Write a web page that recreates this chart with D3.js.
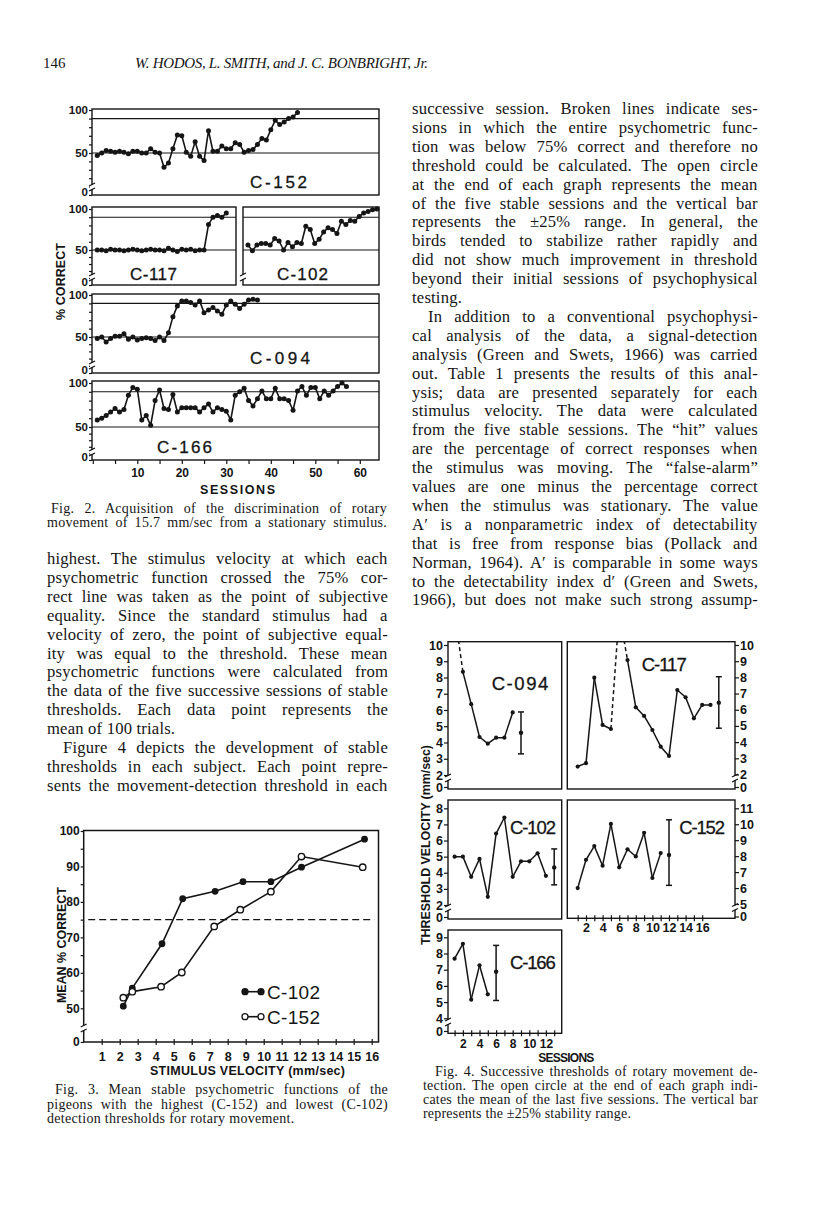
<!DOCTYPE html>
<html>
<head>
<meta charset="utf-8">
<script src="https://cdn.jsdelivr.net/npm/d3@7"></script>
<style>
  body { margin: 0; background: #fff; }
  svg { display: block; }
</style>
</head>
<body>
<svg id="page" width="816" height="1207"></svg>
<script>
// ---------- page text ----------
const pageNumber = "146";
const runningHead = "W. HODOS, L. SMITH, and J. C. BONBRIGHT, Jr.";

const leftCol = [
  "highest. The stimulus velocity at which each",
  "psychometric function crossed the 75% cor-",
  "rect line was taken as the point of subjective",
  "equality. Since the standard stimulus had a",
  "velocity of zero, the point of subjective equal-",
  "ity was equal to the threshold. These mean",
  "psychometric functions were calculated from",
  "the data of the five successive sessions of stable",
  "thresholds. Each data point represents the",
  "mean of 100 trials.",
  "Figure 4 depicts the development of stable",
  "thresholds in each subject. Each point repre-",
  "sents the movement-detection threshold in each"
];

const rightCol = [
  "successive session. Broken lines indicate ses-",
  "sions in which the entire psychometric func-",
  "tion was below 75% correct and therefore no",
  "threshold could be calculated. The open circle",
  "at the end of each graph represents the mean",
  "of the five stable sessions and the vertical bar",
  "represents the ±25% range. In general, the",
  "birds tended to stabilize rather rapidly and",
  "did not show much improvement in threshold",
  "beyond their initial sessions of psychophysical",
  "testing.",
  "In addition to a conventional psychophysi-",
  "cal analysis of the data, a signal-detection",
  "analysis (Green and Swets, 1966) was carried",
  "out. Table 1 presents the results of this anal-",
  "ysis; data are presented separately for each",
  "stimulus velocity. The data were calculated",
  "from the five stable sessions. The “hit” values",
  "are the percentage of correct responses when",
  "the stimulus was moving. The “false-alarm”",
  "values are one minus the percentage correct",
  "when the stimulus was stationary. The value",
  "A′ is a nonparametric index of detectability",
  "that is free from response bias (Pollack and",
  "Norman, 1964). A′ is comparable in some ways",
  "to the detectability index d′ (Green and Swets,",
  "1966), but does not make such strong assump-"
];

const fig2Caption = [
  "Fig. 2. Acquisition of the discrimination of rotary",
  "movement of 15.7 mm/sec from a stationary stimulus."
];
const fig3Caption = [
  "Fig. 3. Mean stable psychometric functions of the",
  "pigeons with the highest (C-152) and lowest (C-102)",
  "detection thresholds for rotary movement."
];
const fig4Caption = [
  "Fig. 4. Successive thresholds of rotary movement de-",
  "tection. The open circle at the end of each graph indi-",
  "cates the mean of the last five sessions. The vertical bar",
  "represents the ±25% stability range."
];

// ---------- Fig. 2 data: % correct per session ----------
const c152Acq = [47, 50, 53, 52, 51, 52, 51, 49, 52, 52, 50, 50, 55, 51, 50, 33, 38, 55, 71, 70, 51, 46, 63, 46, 41, 76, 52, 52, 58, 55, 55, 62, 60, 51, 53, 54, 60, 67, 65, 77, 88, 83, 86, 90, 92, 97];
const c117Acq = [50, 50, 49, 51, 50, 50, 49, 50, 51, 50, 49, 50, 51, 50, 50, 49, 52, 50, 48, 51, 50, 51, 49, 50, 50, 81, 90, 92, 90, 95];
const c102Acq = [56, 49, 56, 58, 58, 56, 64, 61, 50, 59, 54, 59, 58, 79, 75, 58, 63, 72, 77, 75, 70, 85, 81, 86, 85, 91, 95, 97, 99, 100];
const c094Acq = [48, 50, 43, 48, 51, 51, 54, 47, 50, 46, 48, 49, 48, 45, 50, 45, 55, 74, 87, 93, 93, 91, 88, 93, 79, 82, 85, 81, 77, 88, 93, 89, 84, 89, 94, 95, 94];
const c166Acq = [58, 60, 63, 67, 71, 67, 70, 86, 95, 93, 58, 63, 52, 80, 92, 71, 70, 87, 67, 72, 72, 72, 72, 67, 72, 76, 67, 72, 70, 68, 58, 86, 90, 94, 80, 74, 82, 91, 82, 82, 94, 82, 82, 80, 69, 91, 96, 86, 95, 95, 82, 91, 86, 91, 96, 100, 96];
const acqRefLines = [50, 90];
const acqTicks = [0, 10, 20, 30, 40, 50, 60, 70, 80, 90, 100];
const acqLabels = [0, 50, 100];
const sessionTicks2 = [0, 5, 10, 15, 20, 25, 30, 35, 40, 45, 50, 55, 60];
const sessionLabels2 = [10, 20, 30, 40, 50, 60];

// ---------- Fig. 3 data: mean % correct vs stimulus velocity ----------
const velC102 = [2.2, 2.7, 4.35, 5.5, 7.3, 8.85, 10.4, 12.1, 15.6];
const pctC102 = [50.6, 55.7, 68.2, 80.9, 83.0, 85.7, 85.7, 89.8, 97.7];
const velC152 = [2.2, 2.7, 4.3, 5.45, 7.25, 8.7, 10.4, 12.1, 15.5];
const pctC152 = [53.0, 54.7, 56.1, 60.1, 73.1, 77.8, 82.9, 92.8, 89.8];
const velTicks = [1, 2, 3, 4, 5, 6, 7, 8, 9, 10, 11, 12, 13, 14, 15, 16];
const pctTicks = [0, 50, 55, 60, 65, 70, 75, 80, 85, 90, 95, 100];
const pctLabels = [0, 50, 60, 70, 80, 90, 100];
const criterion = 75;

// ---------- Fig. 4 data: threshold (mm/sec) per session ----------
// off = sessions with no threshold (drawn as broken line running off the top)
const c094Thr = [12, 8.35, 6.36, 4.34, 3.93, 4.30, 4.30, 5.85];
const c094Off = [1];
const c094Stable = [4.6, 3.3, 5.88];   // mean, low, high
const c117Thr = [2.49, 2.7, 7.98, 5.06, 4.81, 12, 9.07, 6.15, 5.62, 4.75, 3.72, 3.15, 7.22, 6.77, 5.47, 6.30, 6.30];
const c117Off = [6];
const c117Stable = [6.44, 4.86, 8.04];
const c102Thr = [5.0, 5.0, 3.75, 4.86, 2.51, 6.43, 7.43, 3.75, 4.71, 4.71, 5.21, 3.81];
const c102Stable = [4.33, 3.25, 5.48];
const c152Thr = [6.0, 7.77, 8.63, 7.4, 10.02, 7.3, 8.43, 7.98, 9.46, 6.63, 8.19];
const c152Stable = [8.07, 6.17, 10.28];
const c166Thr = [7.68, 8.6, 5.15, 7.27, 5.48];
const c166Stable = [6.88, 5.1, 8.5];
const thrTicks094 = [0, 2, 3, 4, 5, 6, 7, 8, 9, 10];
const thrTicks102 = [0, 2, 3, 4, 5, 6, 7, 8];
const thrTicks152 = [0, 5, 6, 7, 8, 9, 10, 11];
const thrTicks166 = [0, 4, 5, 6, 7, 8, 9];
const sessTicksRight = [1, 2, 3, 4, 5, 6, 7, 8, 9, 10, 11, 12, 13, 14, 15, 16];
const sessLabelsRight = [2, 4, 6, 8, 10, 12, 14, 16];
const sessTicksLeft = [1, 2, 3, 4, 5, 6, 7, 8, 9, 10, 11, 12, 13];
const sessLabelsLeft = [2, 4, 6, 8, 10, 12];

// ---------- setup ----------
const ink = "#151515";
const serif = '"Liberation Serif", "DejaVu Serif", serif';
const sans = '"Liberation Sans", Arial, sans-serif';
const svg = d3.select("#page");
svg.append("rect").attr("width", 816).attr("height", 1207).attr("fill", "#fff");

// justified block of text; word spacing stretched to fill the column
function textBlock(lines, o) {
  let g = svg.append("g").attr("font-family", serif).attr("font-size", o.size)
    .attr("letter-spacing", o.ls || 0).attr("fill", ink);
  lines.forEach((line, i) => {
    let x = o.x0 + ((o.indent || []).includes(i) ? o.indentW : 0);
    let t = g.append("text").attr("x", x).attr("y", o.y0 + i * o.lh).text(line);
    if ((o.ragged || []).includes(i)) return;
    let w = t.node().getBBox().width;
    let gaps = line.split(" ").length - 1;
    if (gaps > 0) t.attr("word-spacing", (o.x1 - x - w) / gaps);
  });
}

// axis break: a small gap with two slanted strokes
function breakMark(g, x, y) {
  g.append("rect").attr("x", x - 2).attr("y", y - 2).attr("width", 4).attr("height", 4).attr("fill", "#fff");
  g.append("path").attr("d", `M${x - 3},${y - 1} L${x + 3},${y - 4} M${x - 3},${y + 4} L${x + 3},${y + 1}`)
    .attr("stroke", ink).attr("stroke-width", 1.3).attr("fill", "none");
}

function styleAxis(ax, size) {
  ax.select(".domain").remove();
  ax.attr("font-family", sans).attr("font-size", size).attr("font-weight", "bold");
  ax.selectAll("text").attr("fill", ink);
  ax.selectAll("line").attr("stroke", ink).attr("stroke-width", 1.2);
}

// ---------- header ----------
svg.append("text").attr("x", 43).attr("y", 68).attr("font-family", serif).attr("font-size", 15)
  .attr("fill", ink).text(pageNumber);
svg.append("text").attr("x", 135).attr("y", 68).attr("font-family", serif).attr("font-size", 15)
  .attr("font-style", "italic").attr("fill", ink)
  .attr("textLength", 293).attr("lengthAdjust", "spacing").text(runningHead);

// ---------- body text and captions ----------
textBlock(leftCol, { x0: 47, x1: 388, y0: 564, lh: 18.9, size: 16.6, ls: 0.2, ragged: [9], indent: [10], indentW: 16 });
textBlock(rightCol, { x0: 412, x1: 758, y0: 114, lh: 18.9, size: 16.6, ls: 0.2, ragged: [10], indent: [11], indentW: 16 });
textBlock(fig2Caption, { x0: 47, x1: 387, y0: 512.5, lh: 14.5, size: 14, ls: 0.3, indent: [0], indentW: 4 });
textBlock(fig3Caption, { x0: 47, x1: 388, y0: 1094, lh: 14.5, size: 14, ls: 0.3, ragged: [2], indent: [0], indentW: 8 });
textBlock(fig4Caption, { x0: 423, x1: 758, y0: 1076, lh: 14, size: 14, ls: 0.2, ragged: [3], indent: [0], indentW: 12 });

// ---------- Fig. 2 ----------
const fig2 = svg.append("g");
const xAcq = d3.scaleLinear().domain([0, 60]).range([92.8, 359.8]);
const xAcqRight = d3.scaleLinear().domain([0, 30]).range([243.5, 377]);

const fig2Panels = [
  { name: "C-152", values: c152Acq, x: xAcq, box: [92, 379, 109, 195], y50: 153, y100: 110, axis: true, label: [250, 188, 57] },
  { name: "C-117", values: c117Acq, x: xAcq, box: [92, 236, 207, 285], y50: 250, y100: 209, axis: true, label: [130, 280, 47] },
  { name: "C-102", values: c102Acq, x: xAcqRight, box: [243, 379, 207, 285], y50: 250, y100: 209, axis: false, label: [277, 280, 51] },
  { name: "C-094", values: c094Acq, x: xAcq, box: [92, 379, 294, 373], y50: 337, y100: 295, axis: true, label: [250, 364, 60] },
  { name: "C-166", values: c166Acq, x: xAcq, box: [92, 379, 381, 460], y50: 427, y100: 383, axis: true, label: [157, 453, 55] }
];

fig2Panels.forEach(p => {
  let [l, r, t, b] = p.box;
  let y = d3.scaleLinear().domain([0, 50, 100]).range([b, p.y50, p.y100]);
  let g = fig2.append("g");

  g.append("rect").attr("x", l).attr("y", t).attr("width", r - l).attr("height", b - t)
    .attr("fill", "none").attr("stroke", ink).attr("stroke-width", 1.4);

  g.selectAll("line.ref").data(acqRefLines).join("line").attr("class", "ref")
    .attr("x1", l).attr("x2", r).attr("y1", d => y(d)).attr("y2", d => y(d))
    .attr("stroke", ink).attr("stroke-width", 1.1);

  if (p.axis) {
    let ax = g.append("g").attr("transform", `translate(${l},0)`)
      .call(d3.axisLeft(y).tickValues(acqTicks)
        .tickFormat(d => acqLabels.includes(d) ? d : "").tickSize(3).tickPadding(1));
    styleAxis(ax, 11.5);
    // lift the 0 label a little so it clears the panel below
    ax.selectAll(".tick text").filter(d => d === 0).attr("dy", "0.05em");
  }
  breakMark(g, l, b - 8);

  let line = d3.line().x((d, i) => p.x(i + 1)).y(d => y(d));
  g.append("path").attr("d", line(p.values)).attr("fill", "none")
    .attr("stroke", ink).attr("stroke-width", 1.6).attr("stroke-linejoin", "round");
  g.selectAll("circle").data(p.values).join("circle")
    .attr("cx", (d, i) => p.x(i + 1)).attr("cy", d => y(d)).attr("r", 2.5).attr("fill", ink);

  g.append("text").attr("x", p.label[0]).attr("y", p.label[1])
    .attr("font-family", sans).attr("font-size", 17).attr("fill", ink)
    .attr("stroke", ink).attr("stroke-width", 0.3)
    .attr("textLength", p.label[2]).attr("lengthAdjust", "spacing").text(p.name);
});

// sessions axis under the last panel
let ax2 = fig2.append("g").attr("transform", "translate(0,460)")
  .call(d3.axisBottom(xAcq).tickValues(sessionTicks2)
    .tickFormat(d => sessionLabels2.includes(d) ? d : "").tickSize(4).tickPadding(4.5));
styleAxis(ax2, 12);

fig2.append("text").attr("x", 200).attr("y", 494).attr("font-family", sans).attr("font-size", 12.5)
  .attr("font-weight", "bold").attr("fill", ink)
  .attr("textLength", 75).attr("lengthAdjust", "spacing").text("SESSIONS");
fig2.append("text").attr("transform", "translate(64.5,320) rotate(-90)")
  .attr("font-family", sans).attr("font-size", 12.5).attr("font-weight", "bold").attr("fill", ink)
  .attr("textLength", 77).attr("lengthAdjust", "spacing").text("% CORRECT");

// ---------- Fig. 3 ----------
const fig3 = svg.append("g");
const xVel = d3.scaleLinear().domain([0, 16]).range([83.7, 371.7]);
const yPct = d3.scaleLinear().domain([0, 50, 100]).range([1042, 1008.3, 831]);

fig3.append("rect").attr("x", 83.7).attr("y", 830.5).attr("width", 378.5 - 83.7).attr("height", 1042 - 830.5)
  .attr("fill", "none").attr("stroke", ink).attr("stroke-width", 1.5);

let ay3 = fig3.append("g").attr("transform", "translate(83.7,0)")
  .call(d3.axisLeft(yPct).tickValues(pctTicks)
    .tickFormat(d => pctLabels.includes(d) ? d : "").tickSize(3).tickPadding(1));
styleAxis(ay3, 12);

let ax3 = fig3.append("g").attr("transform", "translate(0,1042)")
  .call(d3.axisBottom(xVel).tickValues(velTicks).tickSize(3).tickPadding(7));
styleAxis(ax3, 12.5);
let ax3up = fig3.append("g").attr("transform", "translate(0,1042)")
  .call(d3.axisBottom(xVel).tickValues(velTicks).tickFormat("").tickSize(-3));
styleAxis(ax3up, 12);
breakMark(fig3, 83.7, 1028);

fig3.append("line").attr("x1", xVel(0.25)).attr("x2", xVel(16.15))
  .attr("y1", yPct(criterion)).attr("y2", yPct(criterion))
  .attr("stroke", ink).attr("stroke-width", 1.3).attr("stroke-dasharray", "7,4");

let fnLine = d3.line().x(d => xVel(d[0])).y(d => yPct(d[1]));
let c102Pts = velC102.map((v, i) => [v, pctC102[i]]);
let c152Pts = velC152.map((v, i) => [v, pctC152[i]]);

fig3.append("path").attr("d", fnLine(c102Pts)).attr("fill", "none").attr("stroke", ink).attr("stroke-width", 1.6);
fig3.append("path").attr("d", fnLine(c152Pts)).attr("fill", "none").attr("stroke", ink).attr("stroke-width", 1.6);
fig3.selectAll("circle.c102").data(c102Pts).join("circle").attr("class", "c102")
  .attr("cx", d => xVel(d[0])).attr("cy", d => yPct(d[1])).attr("r", 3.4).attr("fill", ink);
fig3.selectAll("circle.c152").data(c152Pts).join("circle").attr("class", "c152")
  .attr("cx", d => xVel(d[0])).attr("cy", d => yPct(d[1])).attr("r", 3.2)
  .attr("fill", "#fff").attr("stroke", ink).attr("stroke-width", 1.4);

// legend
const legend = [
  { name: "C-102", y: 991.7, filled: true },
  { name: "C-152", y: 1016.7, filled: false }
];
legend.forEach(d => {
  fig3.append("line").attr("x1", 245).attr("x2", 261).attr("y1", d.y).attr("y2", d.y)
    .attr("stroke", ink).attr("stroke-width", 1.6);
  [245, 261].forEach(cx => {
    fig3.append("circle").attr("cx", cx).attr("cy", d.y).attr("r", 3)
      .attr("fill", d.filled ? ink : "#fff").attr("stroke", ink).attr("stroke-width", 1.3);
  });
  fig3.append("text").attr("x", 267).attr("y", d.y + 7).attr("font-family", sans).attr("font-size", 19)
    .attr("fill", ink).attr("textLength", 53).attr("lengthAdjust", "spacing").text(d.name);
});

fig3.append("text").attr("x", 150).attr("y", 1075).attr("font-family", sans).attr("font-size", 12.5)
  .attr("font-weight", "bold").attr("fill", ink)
  .attr("textLength", 195).attr("lengthAdjust", "spacing").text("STIMULUS VELOCITY (mm/sec)");
fig3.append("text").attr("transform", "translate(65.5,1003) rotate(-90)")
  .attr("font-family", sans).attr("font-size", 12.5).attr("font-weight", "bold").attr("fill", ink)
  .attr("textLength", 116).attr("lengthAdjust", "spacing").text("MEAN % CORRECT");

// ---------- Fig. 4 ----------
const fig4 = svg.append("g");
const xSessL = d3.scaleLinear().domain([0, 13]).range([446.3, 446.3 + 8.3 * 13]);
const xSessR = d3.scaleLinear().domain([0, 20]).range([569.4, 569.4 + 8.3 * 20]);

const fig4Panels = [
  { name: "C-094", values: c094Thr, off: c094Off, stable: c094Stable, x: xSessL, side: "left",
    box: [448, 561.7, 641.7, 789], dom: [0, 2, 10], rng: [787, 775, 645], ticks: thrTicks094, label: [491.7, 690, 56.6] },
  { name: "C-117", values: c117Thr, off: c117Off, stable: c117Stable, x: xSessR, side: "right",
    box: [567.3, 735, 641.7, 789], dom: [0, 2, 10], rng: [787, 774.5, 645], ticks: thrTicks094, label: [641.7, 670.7, 45] },
  { name: "C-102", values: c102Thr, off: [], stable: c102Stable, x: xSessL, side: "left",
    box: [448, 561.7, 800, 919], dom: [0, 2, 8], rng: [917, 905, 808.3], ticks: thrTicks102, label: [510, 834, 46] },
  { name: "C-152", values: c152Thr, off: [], stable: c152Stable, x: xSessR, side: "right",
    box: [567.3, 735, 800, 918.3], dom: [0, 5, 11], rng: [916.5, 904, 808.3], ticks: thrTicks152, label: [679.3, 834, 45.7] },
  { name: "C-166", values: c166Thr, off: [], stable: c166Stable, x: xSessL, side: "left",
    box: [448, 561.7, 930, 1033.3], dom: [0, 4, 9], rng: [1031, 1018.3, 937.3], ticks: thrTicks166, label: [510, 969.3, 45.7] }
];

fig4Panels.forEach((p, k) => {
  let [l, r, t, b] = p.box;
  let y = d3.scaleLinear().domain(p.dom).range(p.rng);
  let g = fig4.append("g");

  g.append("clipPath").attr("id", "clip4-" + k).append("rect")
    .attr("x", l).attr("y", t).attr("width", r - l).attr("height", b - t);

  g.append("rect").attr("x", l).attr("y", t).attr("width", r - l).attr("height", b - t)
    .attr("fill", "none").attr("stroke", ink).attr("stroke-width", 1.4);

  let axisX = p.side === "left" ? l : r;
  let axisGen = p.side === "left" ? d3.axisLeft(y) : d3.axisRight(y);
  let ay = g.append("g").attr("transform", `translate(${axisX},0)`)
    .call(axisGen.tickValues(p.ticks).tickSize(4).tickPadding(1));
  styleAxis(ay, 12.5);
  breakMark(g, axisX, p.rng[0] - 9);

  // session-by-session segments; broken where no threshold was obtained
  let pts = p.values.map((v, i) => [i + 1, v]);
  let segs = d3.pairs(pts);
  g.append("g").attr("clip-path", `url(#clip4-${k})`)
    .selectAll("line").data(segs).join("line")
    .attr("x1", d => p.x(d[0][0])).attr("y1", d => y(d[0][1]))
    .attr("x2", d => p.x(d[1][0])).attr("y2", d => y(d[1][1]))
    .attr("stroke", ink).attr("stroke-width", 1.5)
    .attr("stroke-dasharray", d => (p.off.includes(d[0][0]) || p.off.includes(d[1][0])) ? "4,3" : null);

  g.selectAll("circle.pt").data(pts.filter(d => !p.off.includes(d[0]))).join("circle").attr("class", "pt")
    .attr("cx", d => p.x(d[0])).attr("cy", d => y(d[1])).attr("r", 2.1).attr("fill", ink);

  // mean of stable sessions with +/-25% bar
  let ms = p.values.length + 1;
  let [mean, lo, hi] = p.stable;
  g.append("line").attr("x1", p.x(ms)).attr("x2", p.x(ms)).attr("y1", y(lo)).attr("y2", y(hi))
    .attr("stroke", ink).attr("stroke-width", 1.5);
  [lo, hi].forEach(v => {
    g.append("line").attr("x1", p.x(ms) - 3).attr("x2", p.x(ms) + 3).attr("y1", y(v)).attr("y2", y(v))
      .attr("stroke", ink).attr("stroke-width", 1.5);
  });
  g.append("circle").attr("cx", p.x(ms)).attr("cy", y(mean)).attr("r", 2.2).attr("fill", ink);

  g.append("text").attr("x", p.label[0]).attr("y", p.label[1])
    .attr("font-family", sans).attr("font-size", 18.5).attr("fill", ink)
    .attr("stroke", ink).attr("stroke-width", 0.3)
    .attr("textLength", p.label[2]).attr("lengthAdjust", "spacing").text(p.name);
});

// session axes under C-152 and C-166
let ax4r = fig4.append("g").attr("transform", "translate(0,918.3)")
  .call(d3.axisBottom(xSessR).tickValues(sessTicksRight)
    .tickFormat(d => sessLabelsRight.includes(d) ? d : "").tickSize(3).tickPadding(1.5));
styleAxis(ax4r, 12.5);
let ax4rUp = fig4.append("g").attr("transform", "translate(0,918.3)")
  .call(d3.axisBottom(xSessR).tickValues(sessTicksRight).tickFormat("").tickSize(-3));
styleAxis(ax4rUp, 12);

let ax4l = fig4.append("g").attr("transform", "translate(0,1033.3)")
  .call(d3.axisBottom(xSessL).tickValues(sessTicksLeft)
    .tickFormat(d => sessLabelsLeft.includes(d) ? d : "").tickSize(3).tickPadding(3));
styleAxis(ax4l, 12);
let ax4lUp = fig4.append("g").attr("transform", "translate(0,1033.3)")
  .call(d3.axisBottom(xSessL).tickValues(sessTicksLeft).tickFormat("").tickSize(-3));
styleAxis(ax4lUp, 12);

fig4.append("text").attr("x", 538.3).attr("y", 1062).attr("font-family", sans).attr("font-size", 12)
  .attr("font-weight", "bold").attr("fill", ink)
  .attr("textLength", 56).attr("lengthAdjust", "spacing").text("SESSIONS");
fig4.append("text").attr("transform", "translate(429.5,945) rotate(-90)")
  .attr("font-family", sans).attr("font-size", 12.5).attr("font-weight", "bold").attr("fill", ink)
  .attr("textLength", 200).attr("lengthAdjust", "spacing").text("THRESHOLD VELOCITY (mm/sec)");
</script>
</body>
</html>
